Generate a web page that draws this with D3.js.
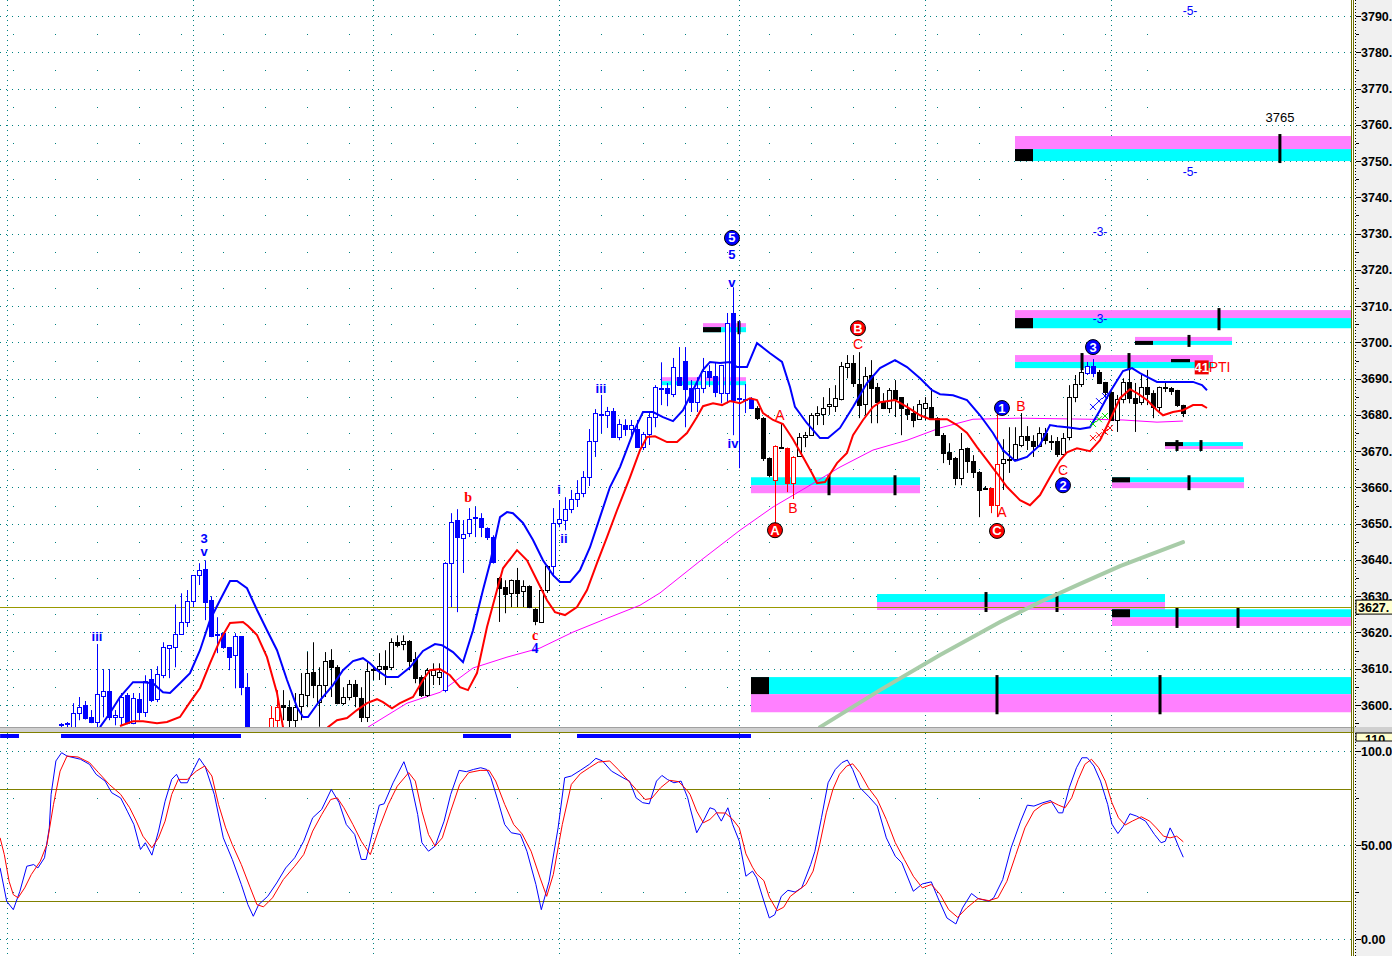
<!DOCTYPE html>
<html><head><meta charset="utf-8">
<script src="https://cdn.jsdelivr.net/npm/d3@7"></script>
<style>html,body{margin:0;padding:0;background:#fff;overflow:hidden}svg{display:block}</style>
</head><body>
<script>
// ---------------- DATA ----------------
const candleOpen = [3594.3,3594.5,3593.9,3597.8,3600.0,3596.6,3595.3,3602.5,3603.8,3596.7,3596.7,3602.7,3595.0,3601.6,3598.0,3607.1,3601.6,3608.2,3615.7,3615.9,3619.5,3622.9,3628.6,3635.8,3637.5,3628.9,3619.5,3619.8,3615.9,3613.8,3619.0,3604.9,3588,3584,3586,3593.9,3595.8,3599.9,3599.4,3595.8,3599.7,3602.7,3609.1,3600.8,3605.5,3612.4,3610.4,3600.5,3602.2,3605.8,3601.9,3596.7,3609.9,3609.9,3610.7,3610.4,3617.3,3616.8,3617.6,3612.6,3607.7,3602.7,3608.2,3607.7,3604.1,3639.1,3651.0,3646.0,3647.4,3651.3,3651.5,3648.8,3646.3,3635.0,3632.5,3630.8,3634.4,3631.4,3632.8,3626.4,3622.9,3631.7,3638.3,3650.2,3651.0,3654.0,3656.8,3658.4,3662.8,3672.8,3680.3,3680.0,3681.0,3673.9,3677.2,3676.1,3676.1,3671.1,3674.7,3679.4,3687.4,3687.4,3685.7,3690.4,3694.8,3687.4,3683.5,3687.4,3692.1,3690.7,3686.0,3686.0,3708.1,3684.6,3684.3,3684.3,3681.9,3679.1,3668.1,3662.0,3671.3,3670.8,3661.2,3668.6,3673.9,3674.4,3679.9,3680.2,3682.4,3682.4,3684.3,3693.2,3694.3,3688.5,3683.0,3691.0,3687.7,3683.5,3681.9,3686.8,3684.9,3681.6,3680.5,3678.8,3681.9,3682.2,3679.1,3674.4,3669.8,3668.1,3662.6,3670.8,3667.3,3664.2,3659.9,3659.8,3655.1,3666.7,3667.8,3667.8,3671.7,3674.2,3672.8,3671.4,3675.0,3672.6,3672.8,3669.2,3673.9,3684.9,3688.5,3691.5,3693.5,3691.8,3689.0,3686.3,3678.6,3684.4,3689.1,3684.6,3683.5,3687.7,3686.0,3682.2,3687.5,3687.4,3686.8,3682.7];
const candleHigh = [3595,3595.3,3600.5,3602.2,3601.1,3598.6,3616.8,3609.9,3609.9,3598.6,3603.3,3603.3,3603.3,3603.3,3608.2,3609.9,3610.7,3617.3,3616.5,3627.7,3630.8,3631.7,3635.8,3639.1,3639.9,3630.0,3624.2,3620.0,3616.0,3619.8,3619.0,3608.8,3591,3589,3592,3599.7,3604.1,3604.1,3601.3,3603.3,3608.8,3614.6,3617.3,3610.4,3614.6,3615.4,3611.0,3604.9,3606.9,3606.9,3604.9,3611.8,3610.4,3614.3,3615.1,3618.4,3619.2,3619.2,3617.9,3614.6,3608.2,3610.2,3611.5,3611.5,3639.4,3652.9,3654.0,3651.0,3654.3,3654.6,3652.9,3649.0,3646.8,3635.3,3634.4,3634.6,3637.8,3634.4,3633.0,3626.7,3632.5,3638.6,3654.3,3656.5,3657.3,3659.3,3662.0,3664.5,3676.1,3681.6,3685.5,3682.2,3681.9,3678.8,3678.8,3678.6,3678.6,3675.3,3680.5,3688.2,3694.5,3688.8,3695.7,3698.7,3698.7,3689.6,3690.4,3695.7,3693.7,3694.3,3693.8,3708.1,3715.2,3706.1,3688.5,3684.9,3682.4,3679.4,3668.3,3671.6,3677.7,3671.0,3668.6,3675.0,3675.3,3680.5,3682.4,3684.9,3687.4,3688.2,3694.6,3696.5,3696.5,3697.3,3693.2,3695.1,3688.8,3686.0,3687.4,3689.6,3684.9,3683.2,3682.4,3684.1,3684.9,3687.4,3679.4,3675.0,3672.2,3668.4,3675.0,3671.0,3668.9,3664.5,3660.4,3659.9,3681.9,3673.3,3676.6,3676.6,3680.5,3676.9,3674.4,3676.6,3676.4,3674.4,3673.9,3675.0,3688.2,3691.0,3696.5,3694.6,3695.4,3692.4,3689.1,3686.5,3685.5,3690.1,3692.4,3688.8,3691.0,3692.4,3686.8,3687.8,3689.1,3687.7,3686.9,3682.8];
const candleLow = [3593,3593,3593,3595.8,3596,3595,3593.9,3596.6,3595.8,3594.4,3594.4,3594.7,3594.7,3595.8,3596.7,3600.8,3600.8,3607.4,3607.4,3610.4,3619.3,3621.5,3627.0,3633.1,3623.4,3618.7,3614.3,3615.5,3609.6,3604.6,3602.7,3586,3580,3579,3582,3590,3592,3595.8,3593,3593,3595.8,3599.4,3601.9,3594,3602.2,3602.2,3600.2,3600.0,3601.3,3599.4,3595.3,3595.3,3606.9,3606.9,3605.5,3609.6,3615.9,3615.1,3609.6,3606.0,3602.2,3602.2,3605.5,3605.5,3603.5,3627.0,3625.6,3636.4,3646.3,3646.3,3646.3,3645.5,3639.0,3622.9,3625.3,3627.0,3627.0,3627.0,3626.7,3622.0,3622.6,3630.9,3635.3,3649.0,3648.2,3652.9,3654.6,3657.3,3660.4,3668.4,3675.0,3676.4,3673.9,3673.0,3674.2,3674.4,3671.1,3670.3,3671.7,3676.6,3682.7,3682.4,3684.9,3688.0,3676.6,3680.8,3680.8,3686.0,3687.7,3684.9,3683.2,3683.2,3674.4,3665.3,3680.5,3681.6,3678.6,3667.3,3662.8,3648.2,3670.8,3658.7,3656.8,3668.4,3671.1,3674.4,3677.2,3677.2,3680.0,3680.8,3684.0,3690.1,3687.7,3679.1,3679.9,3677.7,3677.7,3681.6,3680.5,3679.4,3674.4,3678.6,3676.6,3678.6,3678.6,3678.6,3674.2,3666.7,3666.2,3660.6,3660.6,3664.0,3662.6,3651.8,3659.3,3652.9,3651.8,3659.3,3664.0,3667.5,3671.1,3670.3,3668.4,3671.1,3671.9,3670.3,3668.4,3668.4,3673.0,3683.5,3687.7,3691.0,3690.4,3688.5,3684.9,3678.4,3675.3,3683.2,3683.2,3675.3,3682.7,3682.7,3679.1,3680.8,3686.3,3685.5,3682.2,3679.4];
const candleClose = [3594.6,3594.8,3597.8,3599.4,3596.4,3595.3,3603.0,3603.8,3596.7,3597.2,3602.2,3595.0,3601.9,3598.0,3606.6,3601.3,3608.5,3615.9,3616.5,3619.5,3622.9,3628.6,3635.8,3637.2,3628.4,3619.0,3619.3,3615.9,3613.2,3619.0,3604.9,3588,3584,3586,3589,3596.4,3599.4,3599.4,3595.8,3599.4,3603.0,3608.8,3605.5,3605.5,3612.1,3610.4,3600.5,3602.2,3605.8,3602.4,3596.7,3609.3,3609.6,3610.7,3609.9,3617.3,3616.5,3617.6,3612.1,3607.4,3602.7,3609.6,3609.6,3609.1,3639.1,3650.4,3646.3,3647.1,3651.3,3651.5,3649.0,3646.3,3639.4,3632.2,3630.6,3634.4,3630.8,3632.8,3627.0,3623.1,3631.7,3638.3,3650.2,3651.3,3654.0,3656.8,3658.4,3662.8,3672.8,3680.5,3680.0,3681.0,3673.9,3677.5,3676.1,3677.2,3671.1,3674.7,3679.4,3687.7,3687.1,3686.0,3693.2,3688.2,3687.1,3683.5,3687.4,3692.1,3690.4,3686.3,3693.7,3705.3,3684.1,3684.3,3684.0,3681.9,3679.1,3668.1,3663.4,3671.4,3671.0,3661.2,3668.4,3673.9,3674.4,3679.9,3680.5,3681.9,3683.0,3684.6,3693.4,3694.3,3688.8,3682.7,3690.7,3687.4,3683.5,3681.9,3686.8,3684.3,3681.9,3680.2,3678.6,3683.0,3683.2,3679.1,3674.4,3669.5,3667.8,3662.6,3670.6,3667.3,3664.2,3659.3,3659.6,3655.1,3666.4,3667.8,3667.6,3671.9,3674.2,3673.0,3671.4,3675.0,3673.0,3672.4,3669.2,3673.6,3684.9,3688.5,3691.8,3693.5,3691.5,3688.8,3686.3,3678.6,3684.4,3689.1,3684.6,3683.2,3687.7,3685.7,3682.2,3687.7,3687.3,3686.6,3682.7,3680.5];
const candleColorRanges = [[0,31,"blue"],[35,36,"red"],[64,72,"blue"],[82,115,"blue"],[119,119,"red"],[121,122,"red"],[155,156,"red"],[171,172,"blue"]];

// [bar index, price]
const blueLine = [[6.45,3593.9],[8.12,3597.8],[9.78,3602.2],[11.95,3606.3],[13.62,3606.3],[15.28,3606.0],[16.95,3603.5],[18.12,3603.3],[19.78,3606.0],[21.45,3608.8],[23.12,3615.1],[24.78,3623.4],[26.45,3628.9],[28.12,3634.2],[29.28,3634.2],[30.95,3632.2],[32.62,3626.2],[34.28,3620.6],[35.95,3615.1],[37.62,3606.9],[39.28,3599.4],[40.28,3596.7],[41.12,3596.7],[43.12,3601.3],[45.28,3605.5],[46.95,3609.6],[48.62,3612.1],[50.28,3612.9],[51.45,3611.5],[52.62,3609.6],[54.28,3607.7],[56.12,3607.7],[58.12,3610.4],[60.28,3614.9],[62.28,3616.8],[63.45,3616.5],[65.28,3614.6],[66.95,3611.8],[68.62,3620.6],[70.28,3631.7],[71.45,3639.1],[73.12,3651.8],[74.28,3653.2],[75.28,3652.9],[76.95,3650.2],[78.62,3645.5],[80.28,3639.9],[81.95,3635.8],[83.12,3633.9],[84.78,3633.9],[86.45,3637.2],[88.12,3643.5],[89.78,3651.8],[91.45,3660.1],[93.12,3665.6],[95.28,3675.0],[96.95,3680.8],[98.62,3680.8],[100.28,3679.4],[101.95,3678.3],[103.62,3681.3],[105.28,3686.8],[106.95,3692.4],[108.12,3694.6],[109.78,3694.3],[111.45,3694.6],[112.62,3693.2],[114.28,3693.2],[115.95,3699.8],[118.12,3697.0],[120.12,3694.6],[121.45,3687.7],[122.28,3682.2],[124.28,3677.7],[126.45,3673.6],[127.78,3673.6],[129.78,3676.4],[131.95,3682.2],[134.28,3688.8],[136.45,3692.9],[138.95,3695.1],[140.95,3693.2],[143.12,3690.1],[145.12,3686.8],[146.45,3685.7],[148.62,3685.4],[150.95,3684.1],[153.12,3679.9],[155.28,3675.0],[156.95,3670.3],[158.95,3667.3],[160.95,3668.4],[163.12,3671.7],[164.78,3677.2],[165.95,3676.9],[167.62,3676.6],[169.78,3676.1],[171.45,3676.6],[173.12,3681.3],[174.78,3686.3],[176.95,3692.1],[178.45,3692.9],[179.78,3691.5],[181.45,3690.1],[182.62,3689.1],[185.95,3689.1],[188.62,3689.1],[190.12,3688.2],[190.95,3686.8]];
const redLine = [[9.78,3594.2],[11.95,3595.5],[13.62,3595.5],[15.95,3595.0],[17.62,3595.3],[19.78,3596.7],[21.45,3600.8],[23.12,3604.7],[24.78,3611.5],[26.45,3617.9],[28.12,3622.6],[30.28,3622.9],[31.12,3621.8],[32.62,3619.3],[34.28,3613.2],[35.95,3603.3],[36.95,3593.9],[38.45,3584.8],[41.45,3583.4],[43.45,3589.0],[44.45,3593.9],[45.95,3595.8],[47.62,3596.4],[49.28,3598.6],[50.95,3600.5],[52.62,3601.6],[53.62,3600.8],[55.12,3599.1],[56.45,3600.5],[58.62,3602.2],[60.28,3606.9],[61.45,3609.6],[63.12,3609.9],[64.78,3608.2],[66.45,3604.9],[67.78,3604.1],[69.28,3608.8],[70.95,3621.5],[72.62,3631.7],[73.62,3637.7],[75.95,3642.7],[77.62,3639.9],[79.28,3634.4],[80.95,3628.9],[82.28,3625.6],[83.95,3624.8],[85.95,3627.0],[87.62,3631.7],[89.28,3639.1],[90.95,3646.3],[92.62,3653.7],[94.78,3662.8],[96.45,3670.3],[97.62,3673.9],[98.95,3674.1],[100.95,3672.5],[102.62,3672.5],[104.28,3675.0],[105.95,3679.4],[106.95,3682.4],[108.62,3683.2],[110.12,3682.7],[111.45,3683.8],[113.12,3683.2],[114.78,3684.6],[115.95,3684.1],[116.95,3680.5],[118.62,3678.6],[120.28,3677.5],[121.95,3673.3],[123.62,3668.4],[125.12,3663.9],[125.95,3661.2],[127.28,3661.5],[129.28,3666.7],[130.95,3669.5],[131.95,3674.4],[133.62,3678.6],[135.28,3682.2],[136.45,3683.5],[138.95,3684.1],[140.95,3682.2],[143.12,3679.9],[144.78,3678.8],[147.62,3678.8],[149.28,3677.2],[150.95,3675.0],[152.62,3671.1],[154.28,3667.5],[155.95,3663.9],[157.62,3660.1],[159.78,3656.5],[161.45,3655.1],[163.12,3657.9],[164.78,3662.8],[166.45,3667.5],[167.62,3669.7],[169.28,3670.8],[171.45,3670.0],[173.12,3673.0],[174.78,3678.6],[176.45,3684.6],[178.12,3687.1],[179.28,3686.0],[180.95,3684.1],[182.62,3681.3],[183.62,3679.9],[185.28,3680.8],[186.95,3681.3],[188.62,3682.7],[190.12,3682.7],[190.95,3681.9]];
const magentaLine = [[51.12,3593.9],[57.62,3600.5],[63.12,3603.5],[68.62,3610.2],[74.28,3613.2],[79.78,3615.7],[85.28,3620.1],[90.95,3623.9],[96.45,3627.5],[99.78,3630.9],[106.45,3639.7],[113.12,3648.2],[118.62,3654.6],[124.28,3660.1],[129.78,3665.6],[135.28,3670.3],[140.95,3673.0],[146.45,3676.4],[151.95,3678.8],[159.78,3679.1],[171.45,3678.8],[176.95,3678.6],[182.62,3678.0],[186.95,3678.3]];
const greenLine = [[126.45,3593.9],[136.45,3604.1],[146.45,3613.8],[156.45,3622.9],[163.12,3628.4],[169.78,3633.4],[176.45,3638.3],[186.95,3644.9]];

// stochastic [bar index, value]
const stochK = [[-10.2,37.8],[-9.1,20.1],[-8.0,15.6],[-6.9,25.4],[-5.75,38.7],[-4.6,39.6],[-3.9,37.8],[-2.8,43.2],[-2.0,59.1],[-1.7,76.9],[-0.9,94.7],[0.05,99.1],[0.95,97.3],[3.2,95.6],[4.7,92.9],[5.8,87.6],[7.3,84.0],[8.4,77.8],[9.9,75.0],[11.0,68.0],[12.1,60.9],[13.2,47.6],[14.0,51.2],[15.1,44.6],[16.2,57.4],[17.3,73.3],[18.4,84.9],[19.2,87.6],[19.9,83.1],[21.0,83.1],[22.2,91.1],[23.0,96.1],[24.0,91.5],[25.5,76.9],[27.0,53.8],[28.5,42.3],[30.0,29.0],[31.1,18.3],[32.0,12.1],[32.9,18.3],[34.4,22.7],[35.9,29.8],[37.4,37.8],[38.9,43.2],[40.4,52.0],[41.9,64.5],[43.4,68.9],[45.0,79.6],[46.3,72.5],[47.5,60.9],[48.9,55.6],[50.0,42.3],[50.8,42.3],[51.9,57.4],[53.0,71.2],[53.8,71.9],[55.3,83.1],[57.1,94.3],[58.2,84.0],[59.4,66.2],[60.1,51.2],[61.2,46.7],[62.3,49.4],[63.8,62.7],[64.9,76.9],[66.3,89.7],[67.5,89.0],[68.7,90.2],[69.9,91.1],[70.9,90.2],[71.6,85.8],[72.8,73.3],[73.9,60.9],[75.0,56.5],[76.5,55.6],[77.6,46.7],[79.1,29.0],[80.0,15.6],[81.3,30.7],[82.8,59.1],[83.9,85.8],[85.0,86.7],[86.5,89.7],[88.0,92.9],[89.1,96.1],[90.2,94.7],[91.7,89.3],[93.6,85.8],[94.7,84.0],[95.8,75.1],[96.9,72.5],[98.0,71.9],[99.2,84.0],[100.1,87.0],[101.0,84.9],[102.1,83.1],[103.3,84.0],[104.4,75.1],[104.8,69.8],[105.9,56.5],[107.0,62.7],[108.1,69.8],[108.9,68.9],[110.0,62.7],[111.1,69.8],[111.9,60.9],[113.0,52.0],[114.1,33.4],[115.2,36.1],[115.9,32.5],[117.1,20.1],[118.0,11.2],[118.9,12.9],[120.0,22.7],[121.1,25.9],[122.3,25.0],[123.4,27.2],[124.9,39.6],[125.6,46.7],[126.7,64.5],[127.8,83.1],[129.0,90.2],[130.1,93.8],[131.0,95.2],[131.9,90.2],[133.1,80.5],[134.5,76.0],[136.0,70.7],[137.5,53.8],[139.0,44.0],[140.1,40.5],[142.0,25.4],[143.5,29.3],[145.0,30.4],[146.1,21.9],[147.6,11.2],[149.1,8.0],[150.2,16.5],[151.7,24.2],[152.8,21.5],[154.6,20.1],[155.4,21.9],[156.9,31.6],[158.3,48.5],[159.9,62.7],[161.0,71.2],[162.1,70.7],[163.6,72.5],[164.9,73.7],[166.2,67.1],[166.9,67.1],[168.0,80.5],[169.2,91.1],[170.1,96.4],[171.0,96.4],[172.1,92.0],[173.2,84.0],[174.4,71.6],[175.1,61.1],[176.1,56.1],[177.0,60.0],[178.1,66.6],[179.2,65.4],[180.7,62.7],[182.2,55.6],[183.3,51.2],[184.0,52.0],[184.8,59.1],[185.5,54.7],[186.3,48.5],[187.0,43.5]];
const stochD = [[-10.2,53.8],[-9.5,44.9],[-8.7,30.7],[-8.0,23.6],[-7.2,21.9],[-6.1,27.2],[-5.0,34.3],[-3.5,41.4],[-2.4,50.2],[-1.3,71.6],[-0.2,89.3],[0.95,97.3],[2.8,96.8],[4.7,93.8],[6.2,88.5],[8.0,82.2],[9.9,76.9],[11.4,69.8],[12.5,62.7],[13.6,54.7],[15.1,48.5],[16.2,53.8],[17.3,62.7],[18.4,76.9],[19.5,84.9],[21.0,84.9],[22.5,89.3],[23.9,92.0],[25.1,86.7],[26.2,71.6],[27.4,59.1],[28.5,50.2],[30.0,39.6],[31.5,27.2],[32.6,18.3],[33.7,17.1],[35.2,21.9],[37.0,31.6],[38.9,38.7],[40.4,44.9],[41.9,57.4],[43.4,66.2],[44.9,74.2],[46.0,75.1],[47.1,69.8],[48.6,60.9],[50.0,52.0],[51.5,44.9],[53.0,59.1],[54.5,71.6],[56.0,81.3],[57.9,88.5],[59.0,84.0],[60.1,68.0],[61.2,55.6],[62.3,49.4],[63.5,53.8],[64.9,68.0],[66.4,82.2],[67.9,88.5],[69.8,89.7],[71.3,89.7],[72.4,84.0],[73.9,71.6],[75.4,60.9],[76.8,55.9],[78.3,46.7],[79.8,32.5],[80.9,22.7],[82.0,34.3],[83.5,60.9],[85.0,82.2],[86.5,87.9],[88.0,91.1],[89.5,94.1],[91.4,94.7],[92.8,90.2],[94.3,84.9],[95.8,79.6],[97.3,74.2],[98.4,74.8],[99.9,80.5],[101.4,84.4],[102.9,83.7],[104.4,78.7],[104.8,76.9],[105.9,68.0],[107.0,61.8],[108.1,63.6],[109.2,67.1],[110.7,67.0],[111.9,63.6],[113.0,59.1],[114.1,45.3],[115.2,38.2],[115.9,34.6],[117.1,31.0],[118.0,22.2],[119.3,15.1],[120.4,16.9],[121.5,22.7],[123.0,26.3],[124.1,29.0],[125.3,36.1],[126.4,50.3],[127.5,67.1],[128.6,79.6],[129.7,87.6],[130.9,92.0],[131.9,93.2],[133.1,88.5],[134.5,80.5],[136.0,74.2],[137.5,63.6],[139.0,51.2],[140.5,42.3],[142.0,33.4],[143.5,27.2],[145.0,29.0],[146.5,23.6],[147.9,15.6],[149.4,11.5],[150.9,16.5],[152.8,21.5],[154.6,20.4],[156.1,21.9],[157.6,30.7],[159.1,44.9],[160.6,59.1],[162.1,68.0],[163.6,71.6],[165.1,73.0],[166.2,71.2],[167.3,69.8],[168.4,75.1],[169.5,84.9],[170.6,92.9],[171.7,95.6],[172.9,91.1],[174.0,84.0],[175.1,72.5],[176.2,64.5],[177.3,60.6],[178.5,62.7],[180.0,65.0],[181.4,62.7],[182.5,59.1],[183.7,54.7],[184.8,53.8],[185.9,54.7],[187.0,51.7]];
const stripRanges = [[-10.2,-7.05],[-0.05,29.95],[66.95,74.95],[85.95,114.95]];

// zones: start/end bar index, top/mid/bottom price, top colour, black start block, tick bar indices
const zoneStart = [158.95,158.95,178.95,158.95,183.95,175.12,114.95,106.95,100.12,135.95,175.12,114.95];
const zoneEnd   = [215.1,215.1,195.12,191.95,196.95,197.12,143.12,114.12,114.12,183.95,215.1,215.1];
const zoneTop   = [3756.9,3708.9,3701.5,3696.5,3672.5,3662.8,3662.8,3705.3,3690.4,3630.6,3626.4,3607.7];
const zoneMid   = [3753.3,3706.7,3700.4,3694.6,3671.4,3661.4,3660.6,3704.2,3689.3,3628.4,3624.2,3603.0];
const zoneBottom= [3750.0,3703.9,3699.3,3692.9,3670.6,3659.8,3658.4,3702.8,3688.2,3626.2,3621.8,3598.0];
const zoneTopColor = ["pink","pink","pink","pink","cyan","cyan","cyan","pink","pink","cyan","cyan","cyan"];
const zoneBlackStart = [true,true,true,false,true,true,false,true,false,false,true,true];
const zoneTicks = [[203.1],[192.95],[187.95],[170.12,177.95],[185.95,189.95],[187.95],[127.95,138.95],[112.95],[],[154.12,165.95],[185.95,196.12],[155.95,183.12]];
const extraBar = [184.95,188.12,3695.4,3694.8];

const priceLevel = 3627;
const priceTicks = d3.range(3600, 3791, 10);
const gridBarIdx = [-9, 22, 52, 83, 113, 144, 175];
const stochTicks = [0, 50, 100];
const stochTickLabels = ["0.00", "50.00", "100.0"];

// wave labels: [text, idx, price, color, circled, style]
const waveLabels = [
 ["iii",5.95,3619.0,"blue",false,"b"],["3",23.8,3645.9,"blue",false,"b"],["v",23.8,3642.3,"blue",false,"b"],
 ["b",67.8,3657.3,"red",false,"s"],["i",82.95,3659.3,"blue",false,"b"],["ii",83.78,3646.0,"blue",false,"b"],
 ["c",78.95,3619.3,"red",false,"s"],["4",78.95,3615.7,"blue",false,"s"],["iii",89.95,3687.4,"blue",false,"b"],
 ["5",111.78,3728.8,"blue",true,""],["5",111.78,3724.1,"blue",false,"b"],["v",111.78,3716.6,"blue",false,"b"],
 ["iv",111.95,3672.2,"blue",false,"b"],["A",119.78,3679.7,"red",false,"r"],["B",121.95,3654.3,"red",false,"r"],
 ["A",118.95,3648.2,"red",true,""],["B",132.78,3703.9,"red",true,""],["C",132.78,3699.5,"red",false,"r"],
 ["1",156.78,3681.9,"blue",true,""],["B",159.95,3682.4,"red",false,"r"],["A",156.78,3653.2,"red",false,"r"],
 ["C",155.95,3648.0,"red",true,""],["C",166.95,3664.8,"red",false,"r"],["2",166.95,3660.6,"blue",true,""],
 ["3",171.95,3698.7,"blue",true,""],
 ["-5-",188.12,3791.4,"blue",false,"n"],["-5-",188.12,3747.0,"blue",false,"n"],
 ["-3-",173.12,3730.7,"blue",false,"n"],["-3-",173.12,3706.7,"blue",false,"n"],
 ["3765",203.12,3762.1,"black",false,"k"]
];
const crossMarks = [[171.95,3682.2,"blue"],[172.95,3683.8,"blue"],[173.95,3685.2,"blue"],
 [171.95,3677.5,"green"],[172.95,3678.8,"green"],[173.95,3679.7,"green"],
 [171.95,3673.6,"red"],[172.95,3674.4,"red"],[173.95,3675.3,"red"],[174.78,3676.4,"red"]];

// ---------------- DRAW ----------------
const W = 1392, H = 956, PW = 1352, TOPB = 727, LOWT = 733;
const svg = d3.select("body").append("svg").attr("width", W).attr("height", H)
  .style("font-family", "'Liberation Sans', Arial, sans-serif");
svg.append("rect").attr("width", W).attr("height", H).attr("fill", "#fff");

const xS = d3.scaleLinear().domain([-10.2167, 215.117]).range([0, PW]);
const yP = d3.scaleLinear().domain([3600, 3790]).range([705, 16]);
const yS = d3.scaleLinear().domain([0, 100]).range([939, 751]);
const COL = {blue:"#0000ff", red:"#ff0000", black:"#000", green:"#00cc00", pink:"#ff80ff", cyan:"#00ffff"};

const defs = svg.append("defs");
defs.append("clipPath").attr("id","cu").append("rect").attr("x",0).attr("y",0).attr("width",PW).attr("height",TOPB);
defs.append("clipPath").attr("id","cl").append("rect").attr("x",0).attr("y",LOWT).attr("width",PW).attr("height",H-LOWT);

svg.append("rect").attr("x",1355).attr("y",0).attr("width",W-1355).attr("height",H).attr("fill","#f0f0f0");

const up = svg.append("g").attr("clip-path","url(#cu)");
const gridCol = "#008080";
up.selectAll(".hg").data(priceTicks).join("line")
  .attr("x1",0).attr("x2",PW).attr("y1",d=>Math.round(yP(d))+0.5).attr("y2",d=>Math.round(yP(d))+0.5)
  .attr("stroke",gridCol).attr("stroke-dasharray","1,5");
const sparseIdx = d3.range(0, 28).map(k => 7*k - 8);
const sparsePts = [];
priceTicks.forEach(p => sparseIdx.forEach(i => { if (i <= 188) sparsePts.push([i, p + 5]); }));
up.selectAll(".sd").data(sparsePts).join("rect")
  .attr("x",d=>Math.round(xS(d[0]))).attr("y",d=>Math.round(yP(d[1]))).attr("width",1).attr("height",1).attr("fill",gridCol);
up.selectAll(".vg").data(gridBarIdx).join("line")
  .attr("x1",d=>Math.round(xS(d))+0.5).attr("x2",d=>Math.round(xS(d))+0.5).attr("y1",0).attr("y2",TOPB)
  .attr("stroke",gridCol).attr("stroke-dasharray","1,4");

zoneStart.forEach((s, k) => {
  const x0 = xS(s), x1 = xS(zoneEnd[k]);
  const yt = yP(zoneTop[k]), ym = yP(zoneMid[k]), yb = yP(zoneBottom[k]);
  const topC = COL[zoneTopColor[k]], botC = zoneTopColor[k] === "pink" ? COL.cyan : COL.pink;
  up.append("rect").attr("x",x0).attr("y",yt).attr("width",x1-x0).attr("height",ym-yt).attr("fill",topC);
  up.append("rect").attr("x",x0).attr("y",ym).attr("width",x1-x0).attr("height",yb-ym).attr("fill",botC);
  if (zoneBlackStart[k]) {
    const cy0 = zoneTopColor[k] === "cyan" ? yt : ym, cy1 = zoneTopColor[k] === "cyan" ? ym : yb;
    up.append("rect").attr("x",x0).attr("y",cy0).attr("width",xS(s+3)-x0).attr("height",cy1-cy0).attr("fill","#000");
  }
  zoneTicks[k].forEach(t => {
    up.append("rect").attr("x",xS(t)-1.5).attr("y",yt-2).attr("width",3).attr("height",yb-yt+4).attr("fill","#000");
  });
});
up.append("rect").attr("x",xS(extraBar[0])).attr("y",yP(extraBar[2])).attr("width",xS(extraBar[1])-xS(extraBar[0]))
  .attr("height",yP(extraBar[3])-yP(extraBar[2])+1).attr("fill","#000");

up.append("line").attr("x1",0).attr("x2",PW).attr("y1",Math.round(yP(priceLevel))+0.5).attr("y2",Math.round(yP(priceLevel))+0.5)
  .attr("stroke","#999900").attr("stroke-width",1);

const line = d3.line().x(d=>xS(d[0])).y(d=>yP(d[1]));
up.append("path").datum(greenLine).attr("d",line).attr("fill","none").attr("stroke","#a8cca8").attr("stroke-width",4).attr("stroke-linecap","round");
up.append("path").datum(magentaLine).attr("d",line).attr("fill","none").attr("stroke","#ff00ff").attr("stroke-width",1);

function candleColor(i) {
  for (const r of candleColorRanges) if (i >= r[0] && i <= r[1]) return COL[r[2]];
  return "#000";
}
const cg = up.append("g");
candleOpen.forEach((o, i) => {
  const c = candleClose[i], h = candleHigh[i], l = candleLow[i];
  const col = candleColor(i);
  const cx = Math.round(xS(i));
  cg.append("line").attr("x1",cx+0.5).attr("x2",cx+0.5).attr("y1",yP(h)).attr("y2",yP(l)).attr("stroke",col).attr("stroke-width",1);
  const yt = yP(Math.max(o,c)), yb = yP(Math.min(o,c));
  if (Math.abs(c - o) < 0.45) {
    cg.append("rect").attr("x",cx-2).attr("y",Math.round(yP(c))-1).attr("width",5).attr("height",2).attr("fill",col);
  } else if (c > o) {
    cg.append("rect").attr("x",cx-1.5).attr("y",Math.round(yt)+0.5).attr("width",4).attr("height",Math.max(1,Math.round(yb-yt)))
      .attr("fill","#fff").attr("stroke",col).attr("stroke-width",1);
  } else {
    cg.append("rect").attr("x",cx-2).attr("y",Math.round(yt)).attr("width",5).attr("height",Math.max(2,Math.round(yb-yt)+1)).attr("fill",col);
  }
});

up.append("path").datum(blueLine).attr("d",line).attr("fill","none").attr("stroke","#0000ff").attr("stroke-width",2);
up.append("path").datum(redLine).attr("d",line).attr("fill","none").attr("stroke","#ff0000").attr("stroke-width",2);

crossMarks.forEach(m => {
  const x = xS(m[0]), y = yP(m[1]), col = m[2] === "green" ? "#00dd00" : COL[m[2]];
  up.append("path").attr("d",`M${x-3},${y-3}L${x+3},${y+3}M${x-3},${y+3}L${x+3},${y-3}`).attr("stroke",col).attr("stroke-width",1);
});

waveLabels.forEach(d => {
  const [t, i, p, c, circ, st] = d;
  const x = xS(i), y = yP(p), col = COL[c];
  if (circ) {
    up.append("circle").attr("cx",x).attr("cy",y).attr("r",7.5).attr("fill",col).attr("stroke","#000").attr("stroke-width",1);
    up.append("text").attr("x",x).attr("y",y+4.5).attr("text-anchor","middle").attr("fill","#fff")
      .attr("font-size",13).attr("font-weight","bold").text(t);
  } else {
    const tx = up.append("text").attr("x",x).attr("y",y+4.5).attr("text-anchor","middle").attr("fill",col).text(t);
    if (st === "b") tx.attr("font-size",13).attr("font-weight","bold");
    else if (st === "s") tx.attr("font-size",14).attr("font-weight","bold").style("font-family","'Liberation Serif', serif");
    else if (st === "r") tx.attr("font-size",14);
    else if (st === "n") tx.attr("font-size",12);
    else tx.attr("font-size",13);
  }
});
{
  const x = xS(189.4), y = yP(3693.1);
  up.append("rect").attr("x",x-3).attr("y",y-7).attr("width",14).attr("height",14).attr("fill","#ee0000");
  up.append("text").attr("x",x+4).attr("y",y+5).attr("text-anchor","middle").attr("fill","#fff").attr("font-size",13).attr("font-weight","bold").text("41");
  up.append("text").attr("x",x+11).attr("y",y+5).attr("fill","#ff0000").attr("font-size",14).text("PTI");
}

svg.append("rect").attr("x",0).attr("y",TOPB).attr("width",PW+3).attr("height",5).attr("fill","#d0d0d0");
svg.append("line").attr("x1",0).attr("x2",PW+3).attr("y1",TOPB+0.5).attr("y2",TOPB+0.5).attr("stroke","#a0a0a0");
svg.append("line").attr("x1",0).attr("x2",PW+3).attr("y1",732.5).attr("y2",732.5).attr("stroke","#808000");

const lo = svg.append("g").attr("clip-path","url(#cl)");
lo.selectAll(".lh").data(stochTicks).join("line")
  .attr("x1",0).attr("x2",PW).attr("y1",d=>Math.round(yS(d))+0.5).attr("y2",d=>Math.round(yS(d))+0.5)
  .attr("stroke",gridCol).attr("stroke-dasharray","1,5");
const sparseLo = [];
[25,75].forEach(v => sparseIdx.forEach(i => { if (i <= 188) sparseLo.push([i, v]); }));
lo.selectAll(".ls").data(sparseLo).join("rect")
  .attr("x",d=>Math.round(xS(d[0]))).attr("y",d=>Math.round(yS(d[1]))).attr("width",1).attr("height",1).attr("fill",gridCol);
lo.selectAll(".lv").data(gridBarIdx).join("line")
  .attr("x1",d=>Math.round(xS(d))+0.5).attr("x2",d=>Math.round(xS(d))+0.5).attr("y1",LOWT).attr("y2",H)
  .attr("stroke",gridCol).attr("stroke-dasharray","1,4");
[80,20].forEach(v => lo.append("line").attr("x1",0).attr("x2",PW).attr("y1",Math.round(yS(v))+0.5).attr("y2",Math.round(yS(v))+0.5)
  .attr("stroke","#808000").attr("stroke-width",1.2));
lo.selectAll(".strip").data(stripRanges).join("rect")
  .attr("x",d=>xS(d[0])).attr("y",734).attr("width",d=>xS(d[1])-xS(d[0])).attr("height",4).attr("fill","#0000ff");
const sline = d3.line().x(d=>xS(d[0])).y(d=>yS(d[1]));
lo.append("path").datum(stochK).attr("d",sline).attr("fill","none").attr("stroke","#0000ff").attr("stroke-width",1);
lo.append("path").datum(stochD).attr("d",sline).attr("fill","none").attr("stroke","#ff0000").attr("stroke-width",1);

svg.append("line").attr("x1",1351.5).attr("x2",1351.5).attr("y1",0).attr("y2",H).attr("stroke","#707000");
svg.append("line").attr("x1",1353.5).attr("x2",1353.5).attr("y1",0).attr("y2",H).attr("stroke","#707000");
svg.append("line").attr("x1",1355.5).attr("x2",1355.5).attr("y1",0).attr("y2",TOPB).attr("stroke","#000").attr("stroke-dasharray","1,2");
svg.append("line").attr("x1",1355.5).attr("x2",1355.5).attr("y1",LOWT).attr("y2",H).attr("stroke","#000").attr("stroke-dasharray","1,2");
svg.append("rect").attr("x",1354).attr("y",TOPB).attr("width",W-1354).attr("height",LOWT-TOPB).attr("fill","#d0d0d0");

const ax = svg.append("g");
d3.range(3595, 3796, 5).forEach(p => {
  const y = Math.round(yP(p)) + 0.5;
  if (y > TOPB || y < 0) return;
  const major = p % 10 === 0;
  ax.append("line").attr("x1",1356).attr("x2",major ? 1361 : 1359).attr("y1",y).attr("y2",y).attr("stroke","#000");
});
ax.selectAll(".pl").data(priceTicks).join("text")
  .attr("x",1361).attr("y",d=>yP(d)+4.5).attr("font-size",12.5).attr("font-weight","bold").attr("fill","#000")
  .text(d=>d + ".");
{
  const y = yP(priceLevel);
  ax.append("rect").attr("x",1356).attr("y",y-7).attr("width",40).attr("height",14).attr("fill","#ffffd0").attr("stroke","#000");
  ax.append("text").attr("x",1358).attr("y",y+4.5).attr("font-size",12.5).attr("font-weight","bold").text(priceLevel + ".");
}
[0,25,50,75,100].forEach(v => {
  const y = Math.round(yS(v)) + 0.5;
  ax.append("line").attr("x1",1356).attr("x2",v % 50 === 0 ? 1361 : 1359).attr("y1",y).attr("y2",y).attr("stroke","#000");
});
ax.selectAll(".sl").data(stochTicks).join("text")
  .attr("x",1361).attr("y",d=>yS(d)+4.5).attr("font-size",12.5).attr("font-weight","bold").text((d,i)=>stochTickLabels[i]);
{
  const g = ax.append("g");
  g.append("rect").attr("x",1356).attr("y",LOWT).attr("width",40).attr("height",8).attr("fill","#ffffd0").attr("stroke","#000");
  const cp = defs.append("clipPath").attr("id","c110");
  cp.append("rect").attr("x",1356).attr("y",LOWT+1).attr("width",40).attr("height",7);
  g.append("text").attr("x",1365).attr("y",LOWT+11).attr("font-size",12.5).attr("font-weight","bold").attr("clip-path","url(#c110)").text("110.");
}
</script>
</body></html>
